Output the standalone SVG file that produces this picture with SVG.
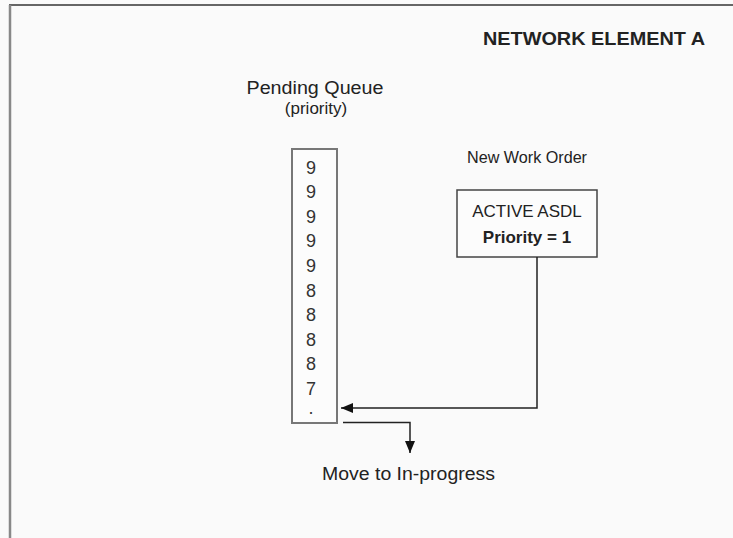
<svg xmlns="http://www.w3.org/2000/svg" width="733" height="538" viewBox="0 0 733 538">
<style>
.t{font-family:"Liberation Sans",Arial,sans-serif;font-size:17px;fill:#222}
.l{font-size:18px}
.b{font-weight:bold}
.d{font-family:"Liberation Sans",Arial,sans-serif;font-size:18px;fill:#333;text-anchor:middle}
.c{fill:none;stroke:#222;stroke-width:1.5}
</style>
<defs>
<marker id="ah" viewBox="0 0 12 10" refX="12" refY="5" markerWidth="12" markerHeight="10" markerUnits="userSpaceOnUse" orient="auto">
<path d="M0,0 L12,5 L0,10 z" fill="#111"/>
</marker>
<clipPath id="clipPri"><rect x="250" y="95" width="140" height="22"/></clipPath>
</defs>
<rect width="733" height="538" fill="#fafafa"/>
<g id="frame">
<line x1="9" y1="5" x2="733" y2="5" stroke="#666" stroke-width="2"/>
<line x1="10" y1="5" x2="10" y2="538" stroke="#888" stroke-width="2.5"/>
</g>
<g id="title">
<text class="t l b" x="483" y="45" textLength="222" lengthAdjust="spacingAndGlyphs">NETWORK ELEMENT A</text>
</g>
<g id="queue-label">
<text class="t l" x="315" y="94" text-anchor="middle" textLength="137" lengthAdjust="spacingAndGlyphs">Pending Queue</text>
<text class="t" x="316" y="114" text-anchor="middle" clip-path="url(#clipPri)">(priority)</text>
</g>
<g id="queue">
<rect x="292" y="149" width="45" height="274" fill="#fcfcfc" stroke="#777" stroke-width="2"/>
<text class="d" x="311" y="174">9</text>
<text class="d" x="311" y="198">9</text>
<text class="d" x="311" y="223">9</text>
<text class="d" x="311" y="247">9</text>
<text class="d" x="311" y="272">9</text>
<text class="d" x="311" y="297">8</text>
<text class="d" x="311" y="321">8</text>
<text class="d" x="311" y="346">8</text>
<text class="d" x="311" y="370">8</text>
<text class="d" x="311" y="395">7</text>
<text class="d" x="311" y="414">.</text>
</g>
<g id="work-order">
<text class="t" x="467" y="163" textLength="120" lengthAdjust="spacingAndGlyphs">New Work Order</text>
<rect x="457" y="190" width="140" height="67" fill="#fcfcfc" stroke="#444" stroke-width="1.5"/>
<text class="t" x="527" y="217" text-anchor="middle">ACTIVE ASDL</text>
<text class="t b" x="527" y="243" text-anchor="middle">Priority = 1</text>
</g>
<g id="connectors">
<path class="c" d="M537,257 V408 H341" marker-end="url(#ah)"/>
<path class="c" d="M343,422.5 H410 V453" marker-end="url(#ah)"/>
</g>
<g id="move-label">
<text class="t l" x="322" y="480" textLength="173" lengthAdjust="spacingAndGlyphs">Move to In-progress</text>
</g>
</svg>
